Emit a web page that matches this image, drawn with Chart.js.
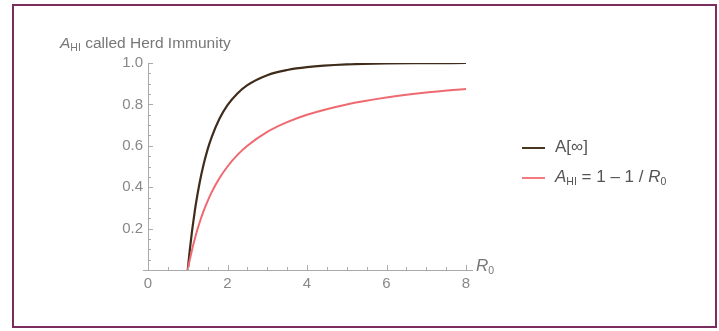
<!DOCTYPE html>
<html>
<head>
<meta charset="utf-8">
<script src="https://cdn.jsdelivr.net/npm/chart.js@4"></script>
<style>
  body { margin: 0; background: #fff; font-family: "Liberation Sans", Arial, sans-serif; }
  #wrap { position: relative; width: 719px; height: 331px; }
  #frame { position: absolute; left: 12px; top: 4px; width: 701px; height: 320px; border: 2px solid #7b2d5e; }
  canvas { position: absolute; left: 0; top: 0; }
  .txt { position: absolute; color: #777; font-size: 15.5px; white-space: nowrap; }
  .sw { position: absolute; width: 23px; height: 2px; }
  sub { font-size: 10.5px; vertical-align: -3px; }
</style>
</head>
<body>
<div id="wrap">
  <div id="frame"></div>
  <canvas id="myChart" width="719" height="331"></canvas>
  <div class="txt" style="left:60px; top:34px;"><i>A</i><sub>HI</sub> called Herd Immunity</div>
  <div class="txt" style="left:476px; top:256px; font-size:17px;"><i>R</i><sub>0</sub></div>
  <div class="sw" style="left:522px; top:147px; background:#4a3520;"></div>
  <div class="txt" style="left:555px; top:137px; color:#555; font-size:17px;">A[∞]</div>
  <div class="sw" style="left:522px; top:177px; background:#f27a80;"></div>
  <div class="txt" style="left:555px; top:167px; color:#555; font-size:17px;"><i>A</i><sub>HI</sub> = 1 – 1 / <i>R</i><sub>0</sub></div>
</div>
<script>
// R0 values and the two curves
let r0 = [1, 1.02, 1.05, 1.1, 1.15, 1.2, 1.3, 1.4, 1.5, 1.6, 1.8, 2, 2.25, 2.5, 3, 3.5, 4, 5, 6, 7, 8]
let aInf = [0, 0.039, 0.094, 0.176, 0.247, 0.314, 0.423, 0.511, 0.583, 0.641, 0.732, 0.797, 0.853, 0.893, 0.941, 0.966, 0.980, 0.993, 0.998, 0.999, 1.0]
let aHI = [0, 0.020, 0.048, 0.091, 0.130, 0.167, 0.231, 0.286, 0.333, 0.375, 0.444, 0.5, 0.556, 0.6, 0.667, 0.714, 0.75, 0.8, 0.833, 0.857, 0.875]
let xTicks = [0, 2, 4, 6, 8]
let yTicks = [0.2, 0.4, 0.6, 0.8, 1.0]

let puntos = function (ys) {
    return r0.map((x, i) => ({ x: x, y: ys[i] }))
}

// small inward ticks like Mathematica axes
const marcas = {
    id: 'marcas',
    afterDraw(chart) {
        let ctx = chart.ctx
        let sx = chart.scales.x
        let sy = chart.scales.y
        let a = chart.chartArea
        ctx.save()
        ctx.strokeStyle = '#aaa'
        ctx.lineWidth = 1
        ctx.beginPath()
        // axis runs a bit past both ends
        ctx.moveTo(a.left - 5, a.bottom + 0.5)
        ctx.lineTo(a.right + 7, a.bottom + 0.5)
        for (let v = 0; v <= 8.001; v += 0.5) {
            let px = Math.round(sx.getPixelForValue(v)) + 0.5
            let len = (Math.abs(v % 2) < 0.01) ? 5 : 3
            ctx.moveTo(px, a.bottom)
            ctx.lineTo(px, a.bottom - len)
        }
        for (let v = 0.05; v <= 1.001; v += 0.05) {
            let py = Math.round(sy.getPixelForValue(v)) + 0.5
            let major = Math.abs(v * 5 - Math.round(v * 5)) < 0.01
            ctx.moveTo(a.left, py)
            ctx.lineTo(a.left + (major ? 5 : 3), py)
        }
        ctx.stroke()
        ctx.restore()
    }
}

let miGrafico = new Chart('myChart', {
    type: 'scatter',
    data: {
        datasets: [
            {
                label: 'A_HI',
                data: puntos(aHI),
                showLine: true,
                borderColor: '#ef6a70',
                borderWidth: 2,
                pointRadius: 0,
                cubicInterpolationMode: 'monotone'
            },
            {
                label: 'A[∞]',
                data: puntos(aInf),
                showLine: true,
                borderColor: '#3f2c1a',
                borderWidth: 2.2,
                pointRadius: 0,
                cubicInterpolationMode: 'monotone'
            }
        ]
    },
    options: {
        responsive: false,
        animation: false,
        layout: { padding: { left: 108, top: 63, right: 253, bottom: 31 } },
        plugins: { legend: { display: false }, tooltip: { enabled: false } },
        scales: {
            x: {
                type: 'linear',
                min: 0,
                max: 8,
                afterFit: s => { s.height = 30 },
                afterBuildTicks: s => { s.ticks = xTicks.map(v => ({ value: v })) },
                grid: { drawOnChartArea: false, drawTicks: false },
                border: { color: '#aaa', width: 1 },
                ticks: { color: '#888', font: { size: 15, family: 'Liberation Sans' }, padding: 5 }
            },
            y: {
                min: 0,
                max: 1,
                afterFit: s => { s.width = 40 },
                afterBuildTicks: s => { s.ticks = yTicks.map(v => ({ value: v })) },
                grid: { drawOnChartArea: false, drawTicks: false },
                border: { color: '#aaa', width: 1 },
                ticks: {
                    color: '#888',
                    font: { size: 15, family: 'Liberation Sans' },
                    padding: 5,
                    callback: v => v.toFixed(1)
                }
            }
        }
    },
    plugins: [marcas]
})
</script>
</body>
</html>
